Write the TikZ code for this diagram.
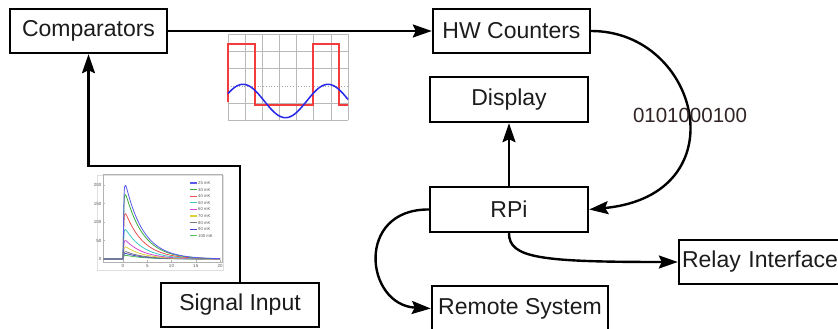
\documentclass[tikz,border=0pt]{standalone}
\usepackage{fontspec}
\setmainfont{Liberation Sans}
\usetikzlibrary{arrows.meta}
\definecolor{txt}{RGB}{28,28,28}
\definecolor{lbl}{RGB}{48,36,36}
\definecolor{sqred}{RGB}{245,60,60}
\definecolor{sinblue}{RGB}{40,40,235}
\definecolor{cA}{RGB}{90,90,235}
\definecolor{cB}{RGB}{60,170,60}
\definecolor{cC}{RGB}{235,80,80}
\definecolor{cD}{RGB}{60,200,200}
\definecolor{cE}{RGB}{210,70,210}
\definecolor{cF}{RGB}{220,210,60}
\definecolor{cG}{RGB}{120,120,120}
\definecolor{cH}{RGB}{70,70,210}
\definecolor{cI}{RGB}{80,190,80}
\begin{document}
\begin{tikzpicture}[x=1pt,y=-1pt,
  box/.style={draw=black,line width=2.4pt,fill=white,text=txt,inner sep=0pt,
    font=\fontsize{23}{27}\selectfont},
  conn/.style={line width=2.4pt,-{Stealth[length=19pt,width=13pt,inset=3pt]}},
  grid line/.style={draw=gray!55,line width=0.6pt},
  leg/.style={font=\fontsize{4.2}{5}\selectfont,text=gray!70!black,anchor=west,inner sep=0.5pt},
  tick lbl/.style={font=\fontsize{4.5}{5}\selectfont,text=gray!70!black,inner sep=0.5pt}]
\useasboundingbox (0,0) rectangle (838,329);
\clip (0,0) rectangle (838,329);
\fill[white] (0,0) rectangle (838,329);

% boxes
\node[box,minimum width=157pt,minimum height=44pt] (comp) at (88.5,31) {Comparators};
\node[box,minimum width=157pt,minimum height=44pt] (hw) at (511.5,31) {HW Counters};
\node[box,minimum width=158pt,minimum height=45pt] (disp) at (509,99.5) {Display};
\node[box,minimum width=158pt,minimum height=45pt] (rpi) at (509,209.5) {RPi};
\node[box,minimum width=164pt,minimum height=44pt,text width=158pt,align=left] (relay) at (761,262) {Relay Interface};
\node[box,minimum width=176pt,minimum height=45pt] (remote) at (520,308.5) {Remote System};
\node[box,minimum width=158pt,minimum height=44pt] (sig) at (240,305) {Signal Input};

% connectors
\draw[conn] (sig.north) -- ++(0,-116) -| (comp.south);
\draw[conn] (comp.east) -- (hw.west);
\draw[conn] (hw.east) .. controls (700,31) and (740,195) .. (rpi.east);
\node[text=lbl,font=\fontsize{20.5}{24}\selectfont,inner sep=0pt] (bits) at (690,115) {0101000100};
\draw[conn] (rpi.north) -- (disp.south);
\draw[conn] (rpi.west) .. controls (355,209) and (365,305) .. (remote.west);
\draw[conn] (rpi.south) .. controls (509,258) and (540,262) .. (relay.west);

% oscilloscope picture
\fill[white] (228,34) rectangle (348,121);
\foreach \k in {0,...,7} \draw[grid line] ({228+\k*17.14},34) -- ({228+\k*17.14},120);
\foreach \k in {0,1,2,4,5} \draw[grid line] (228,{34+\k*17.2}) -- (348,{34+\k*17.2});
\draw[gray!70,line width=0.7pt,dotted] (228,86) -- (348,86);
\draw[draw=sqred,line width=1.1pt] (228,102) -- (228,44) -- (255,44) -- (255,105) -- (313,105) -- (313,44) -- (339,44) -- (339,105) -- (348,105);
\fill[sqred] (313,68) circle (1pt);
\draw[draw=sinblue,line width=1.5pt] plot[domain=228:348,samples=80,smooth] (\x,{101-16.7*cos(4.2353*(\x-243))});

% signal plot picture
\draw[gray!25,fill=white] (97,175) rectangle (223,270);
\draw[gray!60,line width=0.4pt] (103,174) rectangle (222,262);
\foreach \v/\yy in {0/259,50/240.5,100/222,150/203.5,200/185} {
  \node[tick lbl,anchor=east] (yl\v) at (102,\yy) {\v};
  \draw[gray!60,line width=0.4pt] (103,\yy) -- (105,\yy);
}
\foreach \t/\xx in {0/123,5/147.25,10/171.5,15/195.75,20/220} {
  \node[tick lbl,anchor=north] (xl\t) at (\xx,263.5) {\t};
  \draw[gray!60,line width=0.4pt] (\xx,262) -- (\xx,260);
}
\begin{scope}[shift={(123,259)},x=4.85pt,y=0.37pt]
  \foreach \P/\c in {10/cI, 15/cH, 20/cG, 33/cF, 50/cE, 80/cD, 123/cC, 175/cB, 200/cA} {
    \draw[draw=\c,line width=0.8pt] (-4,0) -- (0,0) -- plot[domain=0:20,samples=90,smooth] (\x,{\P*1.18*(1-exp(-\x/0.15))*exp(-\x/3.7)});
  }
\end{scope}
\foreach \lab/\c [count=\i from 0] in {25 mK/cA, 30 mK/cB, 40 mK/cC, 50 mK/cD, 60 mK/cE, 70 mK/cF, 80 mK/cG, 90 mK/cH, 100 mK/cI} {
  \draw[draw=\c,line width=1.2pt] (190,{183+\i*6.6}) -- (197,{183+\i*6.6});
  \node[leg] (lg\i) at (197.5,{183+\i*6.6}) {\lab};
}
\end{tikzpicture}
\end{document}
